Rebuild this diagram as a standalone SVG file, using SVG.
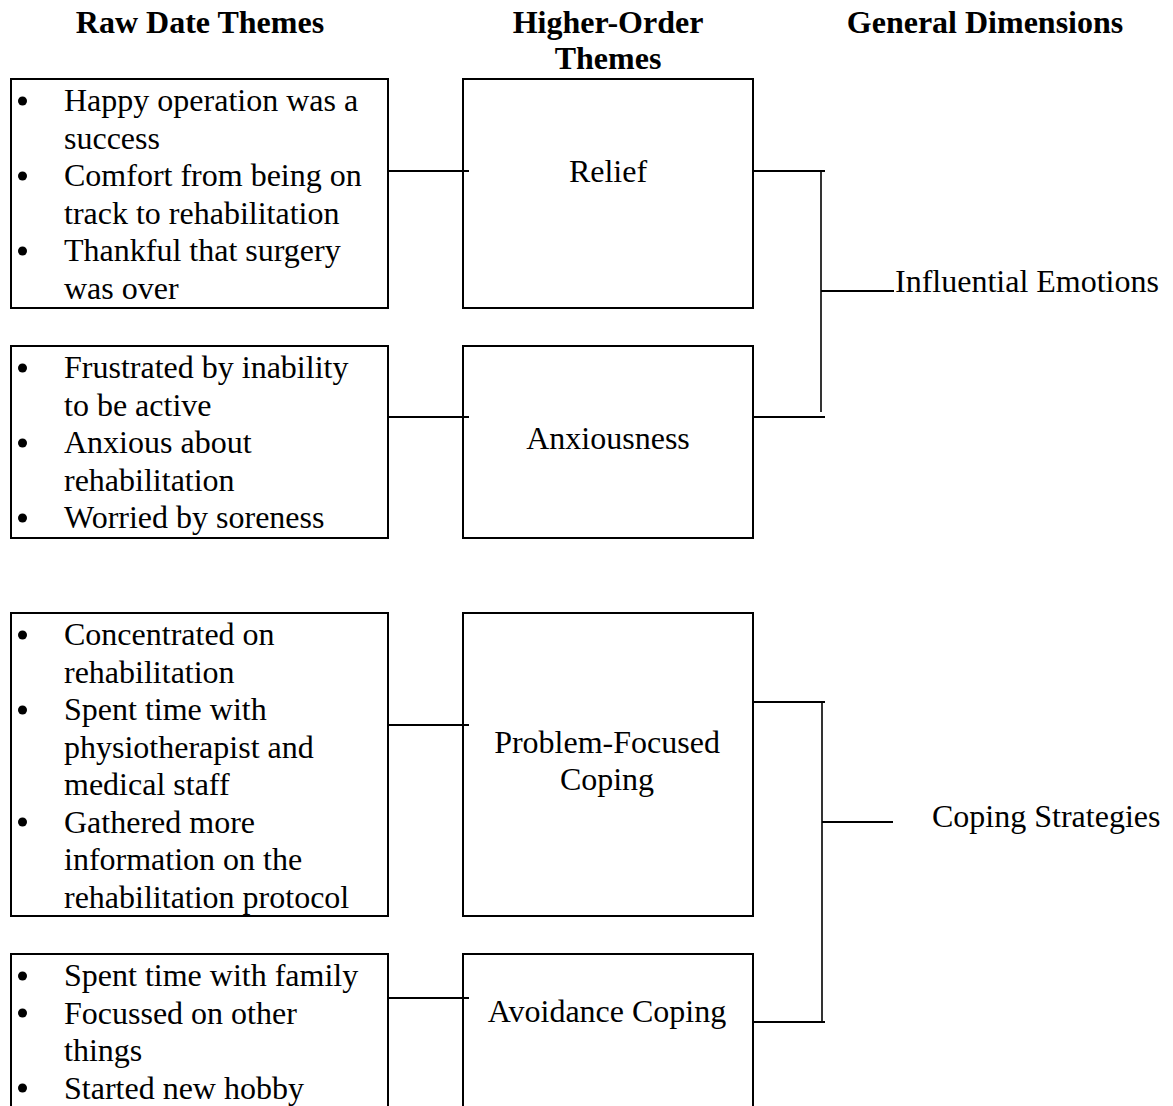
<svg xmlns="http://www.w3.org/2000/svg" width="1173" height="1106" viewBox="0 0 1173 1106">
<style>
text{font-family:"Liberation Serif","Times New Roman",serif;font-size:32px;fill:#000}
.h{font-weight:bold}
.c{text-anchor:middle}
.box{fill:none;stroke:#000;stroke-width:2}
.ln{stroke:#000;stroke-width:2;fill:none}
.thin{stroke:#000;stroke-width:1.6;fill:none}
circle{fill:#000}
</style>
<rect width="1173" height="1106" fill="#fff"/>
<g id="headers">
<text class="h c" x="200" y="33">Raw Date Themes</text>
<text class="h c" x="608" y="33">Higher-Order</text>
<text class="h c" x="608" y="69">Themes</text>
<text class="h c" x="985" y="33">General Dimensions</text>
</g>
<g id="raw1">
<rect class="box" x="11" y="79" width="377" height="229"/>
<circle cx="22.5" cy="101" r="4.5"/><circle cx="22.5" cy="176" r="4.5"/><circle cx="22.5" cy="251" r="4.5"/>
<text x="64" y="111">Happy operation was a</text>
<text x="64" y="148.5">success</text>
<text x="64" y="186">Comfort from being on</text>
<text x="64" y="223.5">track to rehabilitation</text>
<text x="64" y="261">Thankful that surgery</text>
<text x="64" y="298.5">was over</text>
</g>
<g id="raw2">
<rect class="box" x="11" y="346" width="377" height="192"/>
<circle cx="22.5" cy="368" r="4.5"/><circle cx="22.5" cy="443" r="4.5"/><circle cx="22.5" cy="518" r="4.5"/>
<text x="64" y="378">Frustrated by inability</text>
<text x="64" y="415.5">to be active</text>
<text x="64" y="453">Anxious about</text>
<text x="64" y="490.5">rehabilitation</text>
<text x="64" y="528">Worried by soreness</text>
</g>
<g id="raw3">
<rect class="box" x="11" y="613" width="377" height="303"/>
<circle cx="22.5" cy="635" r="4.5"/><circle cx="22.5" cy="710" r="4.5"/><circle cx="22.5" cy="822" r="4.5"/>
<text x="64" y="645">Concentrated on</text>
<text x="64" y="682.5">rehabilitation</text>
<text x="64" y="720">Spent time with</text>
<text x="64" y="757.5">physiotherapist and</text>
<text x="64" y="795">medical staff</text>
<text x="64" y="832.5">Gathered more</text>
<text x="64" y="870">information on the</text>
<text x="64" y="907.5">rehabilitation protocol</text>
</g>
<g id="raw4">
<rect class="box" x="11" y="954" width="377" height="160"/>
<circle cx="22.5" cy="976" r="4.5"/><circle cx="22.5" cy="1013" r="4.5"/><circle cx="22.5" cy="1088" r="4.5"/>
<text x="64" y="986">Spent time with family</text>
<text x="64" y="1023.5">Focussed on other</text>
<text x="64" y="1061">things</text>
<text x="64" y="1098.5">Started new hobby</text>
</g>
<g id="relief">
<rect class="box" x="463" y="79" width="290" height="229"/>
<text class="c" x="608" y="182">Relief</text>
</g>
<g id="anxiousness">
<rect class="box" x="463" y="346" width="290" height="192"/>
<text class="c" x="608" y="449">Anxiousness</text>
</g>
<g id="problem">
<rect class="box" x="463" y="613" width="290" height="303"/>
<text class="c" x="607" y="753">Problem-Focused</text>
<text class="c" x="607" y="790">Coping</text>
</g>
<g id="avoidance">
<rect class="box" x="463" y="954" width="290" height="160"/>
<text class="c" x="607" y="1021.5">Avoidance Coping</text>
</g>
<g id="influential">
<text x="895" y="292">Influential Emotions</text>
</g>
<g id="coping">
<text x="932" y="827">Coping Strategies</text>
</g>
<g id="connectors">
<line class="ln" x1="388" y1="171" x2="469" y2="171"/>
<line class="ln" x1="388" y1="417" x2="469" y2="417"/>
<line class="ln" x1="388" y1="725" x2="469" y2="725"/>
<line class="ln" x1="388" y1="998" x2="469" y2="998"/>
<line class="ln" x1="753" y1="171" x2="825" y2="171"/>
<line class="ln" x1="753" y1="417" x2="825" y2="417"/>
<line class="thin" x1="821" y1="171" x2="821" y2="412"/>
<line class="ln" x1="821" y1="291" x2="894" y2="291"/>
<line class="ln" x1="753" y1="702" x2="825" y2="702"/>
<line class="ln" x1="753" y1="1022" x2="825" y2="1022"/>
<line class="thin" x1="822" y1="702" x2="822" y2="1022"/>
<line class="ln" x1="822" y1="822" x2="893" y2="822"/>
</g>
</svg>
